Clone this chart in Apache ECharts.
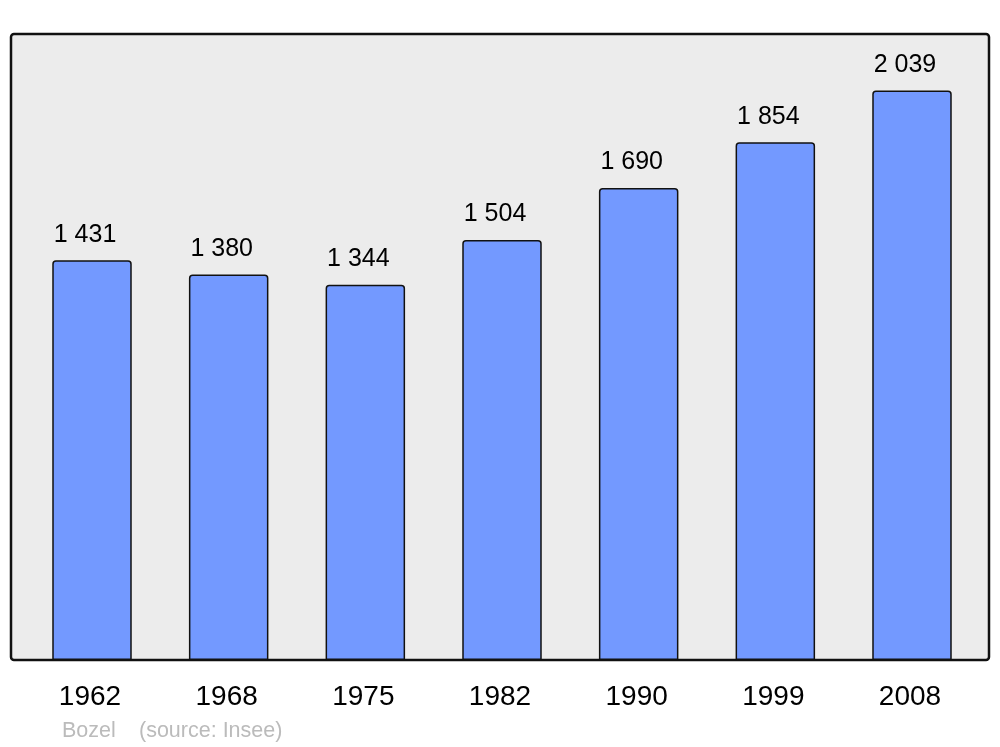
<!DOCTYPE html>
<html>
<head>
<meta charset="utf-8">
<script src="https://cdn.jsdelivr.net/npm/echarts@6/dist/echarts.min.js"></script>
<style>html,body{margin:0;padding:0;background:#fff;}#c{width:1000px;height:747px;}</style>
</head>
<body>
<div id="c"></div>
<script>
var years = ['1962', '1968', '1975', '1982', '1990', '1999', '2008'];
var population = [1431, 1380, 1344, 1504, 1690, 1854, 2039];
var footerPlace = 'Bozel';
var footerSource = '(source: Insee)';

function fmt(v) {
  var s = String(v);
  return s.length > 3 ? s.slice(0, s.length - 3) + ' ' + s.slice(-3) : s;
}

var chart = echarts.init(document.getElementById('c'), null, {renderer: 'canvas'});
chart.setOption({
  animation: false,
  backgroundColor: '#ffffff',
  textStyle: {fontFamily: 'Liberation Sans, Arial, sans-serif'},
  graphic: [
    {type: 'rect', z: -10, shape: {x: 11, y: 34, width: 978, height: 626, r: 3},
     style: {fill: '#ececec', stroke: '#111111', lineWidth: 2.5}},
    {type: 'text', left: 62, top: 720, style: {text: footerPlace, fill: '#bbbbbb', font: '21.5px "Liberation Sans", Arial, sans-serif'}},
    {type: 'text', left: 139, top: 720, style: {text: footerSource, fill: '#bbbbbb', font: '21.5px "Liberation Sans", Arial, sans-serif'}}
  ],
  grid: {left: 23.67, right: 19.67, top: 33, bottom: 87, containLabel: false},
  xAxis: {
    type: 'category',
    data: years,
    axisLine: {show: false},
    axisTick: {show: false},
    axisLabel: {color: '#000', fontSize: 28, margin: 23, fontFamily: 'Liberation Sans, Arial, sans-serif',
      padding: [0, 4, 0, 0]}
  },
  yAxis: {
    type: 'value',
    min: 0,
    max: 2245,
    show: false,
    splitLine: {show: false}
  },
  series: [{
    type: 'bar',
    data: population,
    barWidth: 79.5,
    itemStyle: {color: '#7399ff', borderColor: '#111111', borderWidth: 1.5, borderRadius: [3, 3, 0, 0]},
    label: {
      show: true,
      position: 'top',
      distance: 13,
      offset: [-7, 0],
      color: '#000',
      fontSize: 25,
      fontFamily: 'Liberation Sans, Arial, sans-serif',
      formatter: function (p) { return fmt(p.value); }
    }
  }]
});
</script>
</body>
</html>
